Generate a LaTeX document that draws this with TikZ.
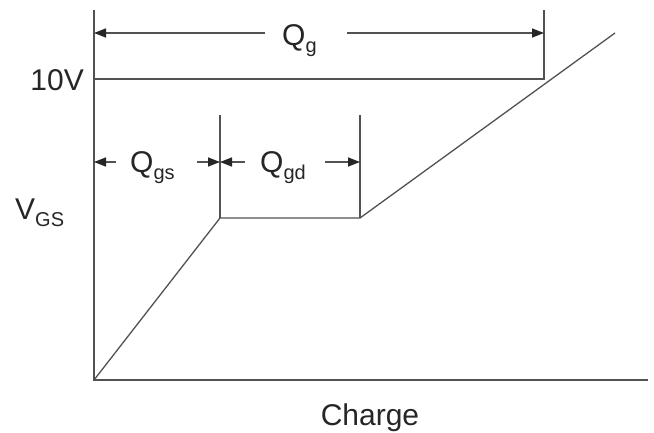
\documentclass[tikz,border=0pt]{standalone}
\usepackage{fontspec}
\setmainfont{Liberation Sans}
\usetikzlibrary{arrows.meta}
\newcommand{\sbs}[1]{\raisebox{-7pt}{\fontsize{20}{20}\selectfont #1}}
\begin{document}
\begin{tikzpicture}[x=1pt,y=-1pt,
  ln/.style={draw=black!68, line width=1.5pt},
  arr/.style={ln, -{Triangle[length=12pt,width=9pt,color=black!85]}},
  lbl/.style={inner sep=0pt, font=\fontsize{30}{30}\selectfont, text=black!85},
]
\useasboundingbox[fill=white] (0,0) rectangle (654,433);
% axes
\coordinate (O) at (94,380);
\coordinate (ytop) at (94,10);
\coordinate (xend) at (648,380);
\draw[ln] (ytop) -- (O) -- (xend);
% curve
\coordinate (A) at (220,218);
\coordinate (B) at (360,218);
\coordinate (C) at (615,33);
\draw[ln, line width=1.3pt] (O) -- (A) -- (B) -- (C);
% verticals
\coordinate (Atop) at (220,115);
\coordinate (Btop) at (360,115);
\draw[ln] (A) -- (Atop);
\draw[ln] (B) -- (Btop);
% 10V line
\coordinate (y10) at (94,79);
\coordinate (g10) at (544,79);
\coordinate (gtop) at (544,10);
\draw[ln] (y10) -- (g10) -- (gtop);
% labels
\node[lbl, anchor=east] (v10) at (84,80) {10V};
\node[lbl, anchor=base west] (vgs) at (15,220) {V\sbs{GS}};
\node[lbl, anchor=base] (charge) at (370,425) {Charge};
\node[lbl, anchor=base west] (qg) at (282,46) {Q\sbs{g}};
\node[lbl, anchor=base west] (qgs) at (130,173) {Q\sbs{gs}};
\node[lbl, anchor=base west] (qgd) at (260,173) {Q\sbs{gd}};
% Qg arrows
\coordinate (qgL0) at (265,33);
\coordinate (qgL1) at (94,33);
\coordinate (qgR0) at (347,33);
\coordinate (qgR1) at (544,33);
\draw[arr] (qgL0) -- (qgL1);
\draw[arr] (qgR0) -- (qgR1);
% Qgs arrows
\coordinate (qsL0) at (116,162);
\coordinate (qsL1) at (94,162);
\coordinate (qsR0) at (197,162);
\coordinate (qsR1) at (220,162);
\draw[arr] (qsL0) -- (qsL1);
\draw[arr] (qsR0) -- (qsR1);
% Qgd arrows
\coordinate (qdL0) at (245,162);
\coordinate (qdL1) at (220,162);
\coordinate (qdR0) at (325,162);
\coordinate (qdR1) at (360,162);
\draw[arr] (qdL0) -- (qdL1);
\draw[arr] (qdR0) -- (qdR1);
\end{tikzpicture}
\end{document}
